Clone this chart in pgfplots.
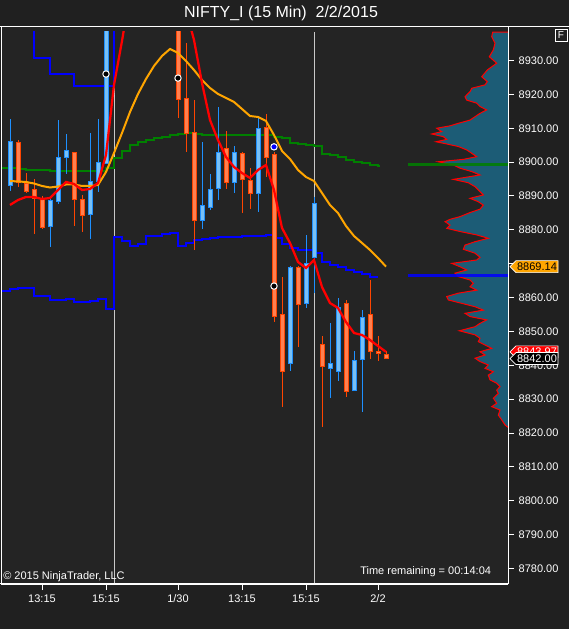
\documentclass[border=0pt]{standalone}
\usepackage{pgfplots}
\pgfplotsset{compat=1.18}
\usepackage{pgfplotstable}
\usepackage{fontspec}
\setmainfont{Liberation Sans}

\definecolor{bgout}{RGB}{32,32,32}
\definecolor{bgplot}{RGB}{36,36,36}
\definecolor{upedge}{RGB}{30,144,255}
\definecolor{upfill}{RGB}{120,192,245}
\definecolor{dnedge}{RGB}{255,69,0}
\definecolor{dnfill}{RGB}{255,128,80}
\definecolor{maorange}{RGB}{255,165,0}
\definecolor{profcol}{RGB}{28,92,118}
\definecolor{sessgray}{RGB}{200,200,200}
\definecolor{pocgreen}{RGB}{0,128,0}

\newcommand\tickfont{\fontsize{8.25}{10}\selectfont}

% 15 min candles, x = bar index (one bar = 8 px)
\pgfplotstableread{
k  open    high    low     close
0  8893.0  8912.7  8891.6  8906.3
5  8880.8  8890.0  8875.0  8888.8
6  8888.2  8912.4  8887.6  8901.5
7  8901.2  8908.3  8896.5  8903.6
10 8884.4  8908.6  8877.3  8894.4
11 8894.1  8912.7  8891.2  8900.0
12 8899.4  8952.0  8899.4  8948.0
24 8882.6  8905.9  8880.2  8887.3
25 8886.5  8896.5  8885.9  8892.1
26 8892.1  8916.3  8888.8  8903.0
28 8893.8  8904.8  8890.9  8903.0
31 8890.6  8913.3  8885.3  8910.1
35 8840.4  8869.3  8838.3  8869.0
37 8858.1  8878.5  8856.9  8870.2
38 8871.7  8889.7  8861.4  8887.9
40 8838.9  8852.5  8830.4  8840.7
41 8838.0  8859.9  8835.4  8857.2
43 8832.4  8844.2  8832.4  8841.6
44 8841.6  8856.3  8826.2  8854.3
}\upbars

\pgfplotstableread{
k  open    high    low     close
1  8905.9  8906.5  8892.7  8893.8
2  8893.8  8896.9  8890.9  8891.2
3  8892.1  8895.0  8878.8  8889.1
4  8889.1  8890.0  8880.2  8880.6
8  8903.0  8903.1  8881.1  8888.8
9  8889.1  8890.3  8879.4  8884.1
21 8950.0  8955.0  8913.0  8918.3
22 8918.9  8935.2  8903.0  8908.3
23 8908.9  8918.3  8874.0  8882.6
27 8904.2  8909.2  8892.1  8893.8
29 8902.8  8903.0  8885.0  8894.7
30 8894.7  8898.3  8886.2  8890.6
32 8910.4  8914.2  8895.6  8901.2
33 8902.4  8903.0  8852.8  8854.3
34 8855.2  8866.1  8827.7  8838.0
36 8869.0  8869.3  8845.4  8857.8
39 8846.3  8848.7  8821.8  8839.5
42 8858.4  8859.3  8830.6  8832.1
45 8855.2  8865.2  8841.9  8843.9
46 8844.2  8848.7  8841.3  8843.3
47 8843.3  8844.2  8842.0  8842.0
}\dnbars

% slow moving average (orange)
\pgfplotstableread{
k  v
0  8894.42
1  8894.28
2  8894.13
3  8893.68
4  8892.95
5  8892.50
6  8892.80
7  8893.39
8  8893.39
9  8892.95
10 8892.95
11 8893.24
12 8897.08
13 8902.69
14 8908.59
15 8914.79
16 8920.11
17 8924.54
18 8928.38
19 8931.33
20 8933.40
21 8932.21
22 8929.85
23 8927.20
24 8924.24
25 8921.88
26 8920.11
27 8918.93
28 8917.75
29 8915.68
30 8913.61
31 8913.32
32 8912.14
33 8908.00
34 8903.28
35 8900.92
36 8897.67
37 8895.60
38 8894.42
39 8890.88
40 8887.34
41 8884.97
42 8881.14
43 8878.18
44 8876.12
45 8874.05
46 8871.69
47 8869.14
}\maslow

% fast moving average (red)
\pgfplotstableread{
k  v
0  8887.34
1  8888.81
2  8889.70
3  8889.70
4  8889.11
5  8889.40
6  8891.77
7  8894.13
8  8893.54
9  8891.77
10 8892.06
11 8893.83
12 8902.10
13 8922.77
14 8935.76
15 8950.0
16 8958.0
17 8963.0
18 8965.0
19 8963.0
20 8960.0
21 8953.0
22 8944.9
23 8936.05
24 8923.36
25 8912.43
26 8906.53
27 8901.51
28 8898.56
29 8896.78
30 8895.31
31 8897.67
32 8899.15
33 8891.77
34 8880.55
35 8876.12
36 8870.51
37 8868.74
38 8871.10
39 8863.13
40 8858.40
41 8856.93
42 8852.79
43 8849.55
44 8848.95
45 8847.48
46 8845.71
47 8843.97
}\mafast

% green step level
\pgfplotstableread{
k      v
-1.125 8898.26
1      8897.97
2      8897.67
5      8897.38
12     8898.26
13     8901.21
14     8903.28
15     8905.05
16     8905.94
17     8906.53
18     8907.12
19     8907.41
20     8908.00
21     8908.30
22     8908.59
23     8908.30
24     8908.00
33     8907.41
34     8907.12
35     8905.64
36     8905.35
37     8905.05
38     8904.76
39     8902.39
40     8902.10
41     8901.51
42     8900.62
43     8900.03
44     8899.74
45     8899.15
46     8898.85
46.3   8898.85
}\greenstep

% upper blue step level
\pgfplotstableread{
k      v
-1.125 8960.00
3      8930.74
5      8925.87
8      8922.47
13     8960.00
14     8960.00
}\bluehi

% lower blue step level
\pgfplotstableread{
k      v
-1.125 8861.95
0      8862.54
1      8862.83
3      8860.47
5      8859.29
7      8859.58
8      8858.70
10     8858.99
11     8859.58
12     8856.63
13     8877.89
14     8876.71
15     8875.23
16     8875.82
17     8878.18
19     8878.77
20     8879.07
21     8875.23
22     8876.12
23     8877.00
24     8877.30
25     8877.59
26     8877.89
29     8878.18
32     8878.48
33     8877.59
34     8875.82
35     8874.64
36     8874.05
38     8873.17
39     8870.51
40     8869.62
41     8869.03
42     8868.15
43     8867.56
44     8866.97
45     8866.08
46     8866.08
}\bluelo

% volume profile: volume (px of bar length) by price
\pgfplotstableread{
vol   price
0     8938.4
15.3  8938.4
16.3  8937.0
13.0  8935.1
14.7  8933.1
18.7  8931.1
11.3  8929.2
20.7  8927.2
26.3  8925.2
20.7  8923.75
23.0  8922.8
36.3  8921.8
38.0  8920.8
43.0  8919.3
41.3  8918.3
31.3  8917.4
28.0  8916.4
21.3  8915.4
28.0  8914.4
33.0  8913.4
38.0  8912.4
49.7  8911.45
58.0  8910.7
71.3  8910.0
66.3  8909.0
76.3  8908.3
64.7  8907.5
61.3  8906.7
72.0  8906.0
61.3  8905.35
49.7  8904.6
41.3  8903.6
36.3  8902.6
31.3  8901.6
44.7  8900.8
69.7  8900.1
54.7  8899.15
48.0  8898.2
36.3  8897.2
28.0  8896.2
54.7  8894.9
39.7  8893.9
33.0  8892.75
28.0  8891.3
24.7  8890.3
38.0  8889.3
29.7  8888.3
24.7  8887.3
28.0  8886.1
38.0  8885.1
48.0  8883.9
58.0  8883.1
63.0  8882.4
58.0  8881.4
61.3  8880.45
48.0  8879.5
31.3  8878.5
19.7  8877.5
33.0  8876.5
43.0  8875.5
44.7  8874.25
33.0  8873.1
28.0  8871.9
31.3  8871.1
56.3  8870.1
48.0  8869.1
41.3  8868.15
53.0  8867.2
49.7  8866.2
38.0  8865.2
34.7  8864.2
38.0  8863.2
31.3  8862.2
49.7  8861.3
61.3  8860.3
59.7  8859.3
46.3  8858.3
33.0  8857.3
24.7  8856.3
43.0  8855.35
38.0  8854.4
21.3  8853.4
28.0  8852.4
33.0  8851.4
48.7  8850.2
33.0  8849.0
28.0  8848.0
29.7  8847.0
23.0  8846.0
16.3  8845.0
28.0  8844.0
23.0  8843.05
33.0  8842.1
28.0  8841.1
19.7  8840.1
23.0  8839.1
14.7  8838.1
19.7  8837.1
18.0  8835.7
11.3  8834.7
8.0   8833.7
11.3  8832.7
9.7   8831.7
14.7  8830.3
11.3  8828.8
16.3  8827.8
8.0   8826.8
9.7   8825.3
6.3   8823.9
3.0   8822.4
0     8821.7
}\profile

\pgfplotsset{
  ohlc/.style={only marks, mark=*, mark size=0pt, mark options={draw=none, fill=none},
    error bars/.cd, y dir=plus, y explicit, error mark=none},
}

\begin{document}
\begin{tikzpicture}[x=0.75pt, y=0.75pt]
\useasboundingbox (0,0) rectangle (569,629);
% background (picture units = pixels, y measured from the bottom)
\fill[bgout] (0,0) rectangle (569,629);
\fill[bgplot] (1,45) rectangle (508,602);

% volume profile, anchored at the right edge
\begin{axis}[
    at={(0.75pt,33.75pt)}, anchor=south west,
    scale only axis, width=380.25pt, height=414pt,
    x dir=reverse, xmin=0, xmax=507,
    ymin=8775.44, ymax=8938.41,
    hide axis,
]
\addplot[fill=profcol, draw=none] table[x=vol, y=price] {\profile};
\addplot[red, line width=0.75pt] table[x=vol, y=price] {\profile};
\addplot[pocgreen, line width=2.25pt, opacity=0.85] coordinates {(0,8899.4) (100,8899.4)};
\addplot[blue, line width=2.25pt, opacity=0.85] coordinates {(0,8866.4) (100,8866.4)};
\end{axis}

\begin{axis}[
    at={(0.75pt,33.75pt)}, anchor=south west,
    scale only axis, width=380.25pt, height=414pt,
    xmin=-1.125, xmax=62.25,
    ymin=8775.44, ymax=8938.41,
    axis x line*=bottom, axis y line*=right,
    axis line style={white, line width=0.75pt, -},
    xtick={4,12,21,29,37,46},
    xticklabels={13:15,15:15,1/30,13:15,15:15,2/2},
    ytick={8780,8790,8800,8810,8820,8830,8840,8850,8860,8880,8890,8900,8910,8920,8930},
    extra y ticks={8870}, extra y tick labels={},
    tick align=outside, major tick length=4.5pt,
    tick style={white, line width=0.75pt},
    ticklabel style={font=\tickfont, text=white},
    yticklabel style={/pgf/number format/.cd, fixed, fixed zerofill,
        precision=2, 1000 sep={}, assume math mode=true},
    clip mode=individual,
]
% session breaks
\addplot[sessgray, line width=0.75pt] coordinates {(13,8775.44) (13,8938.41)};
\addplot[sessgray, line width=0.75pt] coordinates {(38,8775.44) (38,8938.41)};

% step levels
\addplot[pocgreen, line width=0.9pt, const plot] table[x=k, y=v] {\greenstep};
\addplot[blue, line width=1.5pt, const plot] table[x=k, y=v] {\bluehi};
\addplot[blue, line width=1.5pt, const plot] table[x=k, y=v] {\bluelo};

% wicks
\addplot[ohlc, error bar style={color=upedge, line width=0.75pt}]
    table[x=k, y=low, y error expr=\thisrow{high}-\thisrow{low}] {\upbars};
\addplot[ohlc, error bar style={color=dnedge, line width=0.75pt}]
    table[x=k, y=low, y error expr=\thisrow{high}-\thisrow{low}] {\dnbars};

% bodies: outline then fill
\addplot[ohlc, error bar style={color=upedge, line width=3.75pt}]
    table[x=k, y=open, y error expr=\thisrow{close}-\thisrow{open}] {\upbars};
\addplot[ohlc, error bar style={color=upfill, line width=2.25pt}]
    table[x=k, y expr=\thisrow{open}+0.3, y error expr=\thisrow{close}-\thisrow{open}-0.6] {\upbars};
\addplot[ohlc, error bar style={color=dnedge, line width=3.75pt}]
    table[x=k, y=close, y error expr=\thisrow{open}-\thisrow{close}] {\dnbars};
\addplot[ohlc, error bar style={color=dnfill, line width=2.25pt}]
    table[x=k, y expr=\thisrow{close}+0.3, y error expr=\thisrow{open}-\thisrow{close}-0.6] {\dnbars};

% moving averages
\addplot[maorange, line width=1.5pt] table[x=k, y=v] {\maslow};
\addplot[red, line width=1.7pt] table[x=k, y=v] {\mafast};

% signal dots
\addplot[only marks, mark=*, mark size=2.4pt, mark options={fill=black, draw=white, line width=0.75pt}]
    coordinates {(12,8926.0) (21,8924.8) (33,8863.4)};
\addplot[only marks, mark=*, mark size=2.4pt, mark options={fill=blue, draw=white, line width=0.75pt}]
    coordinates {(33,8904.5)};

\coordinate (tO) at (axis cs:62.25,8869.14);
\coordinate (tR) at (axis cs:62.25,8843.97);
\coordinate (tB) at (axis cs:62.25,8842.00);
\end{axis}

% frame
\draw[white, line width=0.75pt] (0,602) -- (569,602);
\draw[white, line width=0.75pt] (1,602) -- (1,45);
\draw[white, line width=0.75pt] (508,602) -- (508,45);
\draw[white, line width=0.75pt] (0,45) -- (508,45);

% price tags
\draw[fill=maorange, draw=white, line width=0.5pt] (tO) ++(2,0) -- ++(6,6) -- ++(42,0) -- ++(0,-12) -- ++(-42,0) -- cycle;
\path (tO) ++(29,0) node[font=\tickfont, text=black] {8869.14};
\draw[fill=red, draw=white, line width=0.5pt] (tR) ++(2,0) -- ++(6,6) -- ++(42,0) -- ++(0,-12) -- ++(-42,0) -- cycle;
\path (tR) ++(29,0) node[font=\tickfont, text=white] {8843.97};
\draw[fill=black, draw=white, line width=0.5pt] (tB) ++(2,0) -- ++(6,6) -- ++(42,0) -- ++(0,-12) -- ++(-42,0) -- cycle;
\path (tB) ++(29,0) node[font=\tickfont, text=white] {8842.00};

% texts
\node[text=white, font=\fontsize{12}{14}\selectfont] at (281,616) {NIFTY\_I (15 Min)\ \ 2/2/2015};
\draw[white, line width=0.6pt] (555,600) rectangle (567,588);
\node[text=white, font=\fontsize{7.5}{9}\selectfont] at (561,594) {F};
\node[anchor=west, text=white, font=\tickfont, inner sep=0pt] at (3,52) {© 2015 NinjaTrader, LLC};
\node[anchor=west, text=white, font=\tickfont, inner sep=0pt] at (360,57) {Time remaining = 00:14:04};
\end{tikzpicture}
\end{document}
